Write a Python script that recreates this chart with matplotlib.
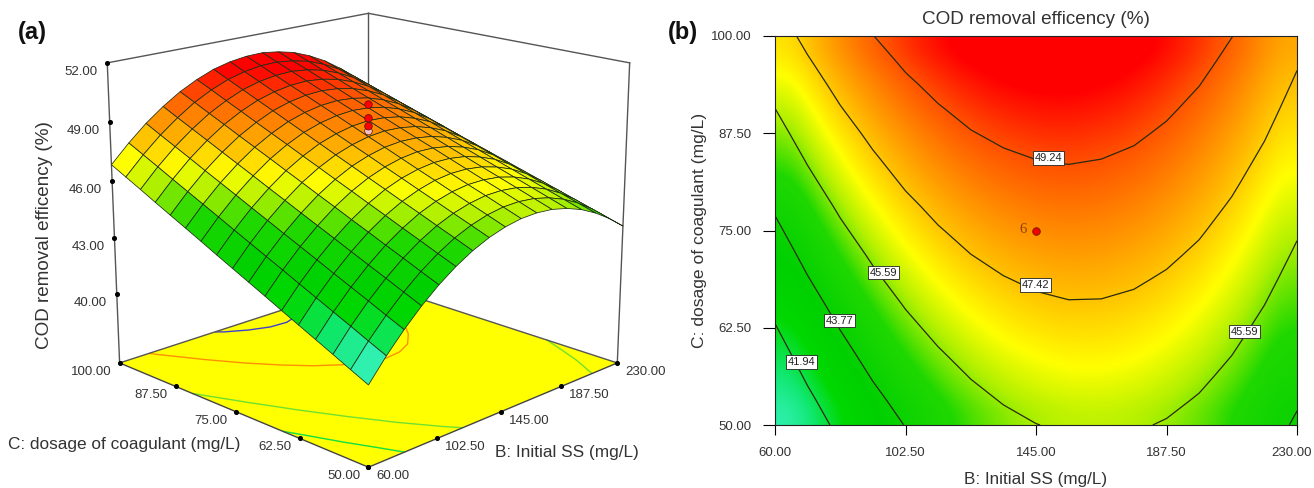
import numpy as np
import matplotlib
matplotlib.use("Agg")
import matplotlib.pyplot as plt
from matplotlib.colors import LinearSegmentedColormap, Normalize
from matplotlib.transforms import ScaledTranslation
from mpl_toolkits.mplot3d import proj3d

plt.rcParams['font.family'] = ['Liberation Sans', 'DejaVu Sans']

B_values = [60.0, 70.625, 81.25, 91.875, 102.5, 113.125, 123.75, 134.375, 145.0,
            155.625, 166.25, 176.875, 187.5, 198.125, 208.75, 219.375, 230.0]
C_values = [50.0, 53.125, 56.25, 59.375, 62.5, 65.625, 68.75, 71.875, 75.0,
            78.125, 81.25, 84.375, 87.5, 90.625, 93.75, 96.875, 100.0]
# COD removal: one list per B value, running over C_values
cod_b060 = [40.22,40.63,41.05,41.46,41.87,42.28,42.70,43.11,43.52,43.93,44.35,44.76,45.17,45.58,46.00,46.41,46.82]
cod_b071 = [41.29,41.69,42.10,42.50,42.90,43.30,43.71,44.11,44.51,44.91,45.32,45.72,46.12,46.52,46.93,47.33,47.73]
cod_b081 = [42.24,42.63,43.03,43.42,43.81,44.21,44.60,44.99,45.39,45.78,46.18,46.57,46.96,47.36,47.75,48.14,48.54]
cod_b092 = [43.08,43.46,43.85,44.23,44.61,45.00,45.38,45.76,46.15,46.53,46.92,47.30,47.68,48.07,48.45,48.83,49.22]
cod_b102 = [43.81,44.18,44.56,44.93,45.31,45.68,46.06,46.43,46.81,47.18,47.56,47.93,48.30,48.68,49.05,49.43,49.80]
cod_b113 = [44.42,44.78,45.15,45.51,45.88,46.24,46.61,46.97,47.34,47.70,48.07,48.43,48.79,49.16,49.52,49.89,50.25]
cod_b124 = [44.92,45.28,45.63,45.99,46.34,46.70,47.05,47.41,47.76,48.12,48.48,48.83,49.19,49.54,49.90,50.25,50.61]
cod_b134 = [45.30,45.65,45.99,46.34,46.68,47.03,47.37,47.72,48.06,48.41,48.76,49.10,49.45,49.79,50.14,50.48,50.83]
cod_b145 = [45.57,45.91,46.24,46.58,46.92,47.25,47.59,47.93,48.26,48.60,48.94,49.27,49.61,49.94,50.28,50.62,50.95]
cod_b156 = [45.73,46.06,46.39,46.71,47.04,47.37,47.70,48.02,48.35,48.68,49.01,49.33,49.66,49.99,50.32,50.64,50.97]
cod_b166 = [45.77,46.09,46.41,46.72,47.04,47.36,47.68,47.99,48.31,48.63,48.95,49.26,49.58,49.90,50.22,50.53,50.85]
cod_b177 = [45.70,46.01,46.32,46.63,46.93,47.24,47.55,47.86,48.17,48.48,48.79,49.09,49.40,49.71,50.02,50.33,50.64]
cod_b188 = [45.51,45.81,46.11,46.41,46.70,47.00,47.30,47.60,47.90,48.20,48.50,48.79,49.09,49.39,49.69,49.99,50.29]
cod_b198 = [45.21,45.50,45.79,46.08,46.37,46.66,46.95,47.24,47.53,47.82,48.11,48.39,48.68,48.97,49.26,49.55,49.84]
cod_b209 = [44.79,45.07,45.35,45.63,45.91,46.19,46.47,46.75,47.03,47.31,47.59,47.86,48.14,48.42,48.70,48.98,49.26]
cod_b219 = [44.26,44.53,44.80,45.07,45.34,45.61,45.88,46.15,46.42,46.69,46.97,47.24,47.51,47.78,48.05,48.32,48.59]
cod_b230 = [43.62,43.88,44.14,44.40,44.66,44.92,45.18,45.44,45.70,45.96,46.23,46.49,46.75,47.01,47.27,47.53,47.79]

B_ticks = [60.0, 102.5, 145.0, 187.5, 230.0]
C_ticks = [50.0, 62.5, 75.0, 87.5, 100.0]
Z_ticks = [40.0, 43.0, 46.0, 49.0, 52.0]
Z_floor = 36.24
contour_levels = [41.94, 43.77, 45.59, 47.42, 49.24]
floor_levels = [42.3, 44.7, 48.3, 50.5]
floor_line_colors = ['#10E040', '#70E030', '#FF9000', '#4040D0']
label_values = [49.24, 47.42, 45.59, 45.59, 43.77, 41.94]
label_B = [149.1, 144.9, 95.4, 212.9, 81.0, 68.5]
label_C = [84.3, 68.0, 69.6, 62.0, 63.4, 58.1]
centre_B = 145.0
centre_C = 75.0
centre_runs = [48.55, 48.8, 49.2, 49.9]
run_colors = ['#F8C0C0', '#FF0000', '#FF0000', '#FF0000']

Z = np.array([cod_b060, cod_b071, cod_b081, cod_b092, cod_b102, cod_b113, cod_b124, cod_b134,
              cod_b145, cod_b156, cod_b166, cod_b177, cod_b188, cod_b198, cod_b209, cod_b219, cod_b230]).T
BB, CC = np.meshgrid(B_values, C_values)

stops = [(40.2, '#30F0B0'), (41.0, '#10E870'), (42.0, '#00D800'), (43.0, '#00D000'), (44.6, '#20D800'),
         (45.6, '#B0F000'), (46.4, '#FFFF00'), (47.4, '#FFC000'), (48.5, '#FF8000'),
         (49.3, '#FF5000'), (50.3, '#FF0000'), (51.0, '#FF0000')]
norm = Normalize(stops[0][0], stops[-1][0])
cmap = LinearSegmentedColormap.from_list('dx', [(norm(v), c) for v, c in stops], N=512)

fig = plt.figure(figsize=(13.14, 4.88), dpi=100)
W, H = 1314.0, 488.0
TXT = '#333333'

# ---- panel (a)
size = 700.0
cx, cy = 359.0, 226.0
ax = fig.add_axes([(cx - size/2)/W, (H - cy - size/2)/H, size/W, size/H], projection='3d')
ax.patch.set_visible(False)
ax.computed_zorder = False
ax.set_axis_off()
ax.set_proj_type('persp', focal_length=0.5)
ax.view_init(elev=17, azim=-135)
ax.set_box_aspect((1, 1, 0.87), zoom=0.83)
ax.set_xlim(B_ticks[0], B_ticks[-1], view_margin=0)
ax.set_ylim(C_ticks[0], C_ticks[-1], view_margin=0)
ax.set_zlim(Z_floor, Z_ticks[-1], view_margin=0)

b0, b1 = B_ticks[0], B_ticks[-1]
c0, c1 = C_ticks[0], C_ticks[-1]
z0, z1 = Z_floor, Z_ticks[-1]

ax.plot_surface(np.array([[b0, b1], [b0, b1]]), np.array([[c0, c0], [c1, c1]]),
                np.full((2, 2), z0), color='#FFFF00', shade=False, linewidth=0, zorder=1)
ax.contour(BB, CC, Z, levels=floor_levels, colors=floor_line_colors, zdir='z', offset=z0,
           linewidths=1.0, zorder=2)

GREY = '#555555'
for xs, ys, zs, col in [
    ([b0, b1], [c1, c1], [z1, z1], GREY), ([b1, b1], [c0, c1], [z1, z1], GREY),
    ([b0, b0], [c1, c1], [z0, z1], GREY), ([b1, b1], [c0, c0], [z0, z1], GREY),
    ([b1, b1], [c1, c1], [z0, z1], GREY),
    ([b0, b1], [c1, c1], [z0, z0], GREY), ([b1, b1], [c0, c1], [z0, z0], GREY),
    ([b0, b1], [c0, c0], [z0, z0], '#444444'), ([b0, b0], [c0, c1], [z0, z0], '#444444')]:
    ax.plot(xs, ys, zs, color=col, lw=1.0, zorder=3)

ax.plot_surface(BB, CC, Z, rstride=1, cstride=1, facecolors=cmap(norm(Z)), shade=False,
                edgecolor='#1c2c14', linewidth=0.55, antialiased=True, zorder=5)

# tick dots and labels
ax.scatter([b0]*len(Z_ticks), [c1]*len(Z_ticks), Z_ticks, s=7, c='k', depthshade=False, zorder=4)
ax.scatter([b0]*len(C_ticks), C_ticks, [z0]*len(C_ticks), s=7, c='k', depthshade=False, zorder=4)
ax.scatter(B_ticks, [c0]*len(B_ticks), [z0]*len(B_ticks), s=7, c='k', depthshade=False, zorder=4)
fig.canvas.draw()
M = ax.get_proj()
def note(x, y, z, text, dx, dy, ha):
    px, py, _ = proj3d.proj_transform(x, y, z, M)
    ax.annotate(text, xy=(px, py), xytext=(dx, dy), textcoords='offset pixels',
                ha=ha, va='center', fontsize=9.5, color=TXT, annotation_clip=False)
for t in Z_ticks:
    note(b0, c1, t, f'{t:.2f}', -10, -9, 'right')
for t in C_ticks:
    note(b0, t, z0, f'{t:.2f}', -8, -9, 'right')
for t in B_ticks:
    note(t, c0, z0, f'{t:.2f}', 8, -9, 'left')

ax.scatter([centre_B]*len(centre_runs), [centre_C]*len(centre_runs), centre_runs, s=30,
           c=run_colors, edgecolors='#501010', linewidths=0.5, depthshade=False, zorder=7)

fig.text(45/W, 1-235/H, 'COD removal efficency (%)', rotation=90, ha='center', va='center', fontsize=13.6, color=TXT)
fig.text(8/W, 1-445/H, 'C: dosage of coagulant (mg/L)', ha='left', va='center', fontsize=12.4, color=TXT)
fig.text(495/W, 1-453/H, 'B: Initial SS (mg/L)', ha='left', va='center', fontsize=12.4, color=TXT)
fig.text(18/W, 1-32/H, '(a)', ha='left', va='center', fontsize=17, fontweight='bold', color='#111111')
fig.text(668/W, 1-32/H, '(b)', ha='left', va='center', fontsize=17, fontweight='bold', color='#111111')

# ---- panel (b)
ax2 = fig.add_axes([775/W, 1-425/H, 522/W, 389/H])
ax2.imshow(Z, origin='lower', extent=[b0, b1, c0, c1], aspect='auto', cmap=cmap, norm=norm,
           interpolation='bicubic')
ax2.contour(BB, CC, Z, levels=contour_levels, colors='#2a2a10', linewidths=0.9)
for v, x, y in zip(label_values, label_B, label_C):
    ax2.text(x, y, f'{v:.2f}', ha='center', va='center', fontsize=8, color='#222222',
             bbox=dict(boxstyle='square,pad=0.15', fc='white', ec='#222222', lw=0.6))
ax2.plot([centre_B], [centre_C], 'o', ms=5.5, mfc='#EE0000', mec='#702000', mew=0.6)
ax2.annotate('6', xy=(centre_B, centre_C), xytext=(-13, 1), textcoords='offset pixels', ha='center',
             va='center', fontsize=10.5, color='#8A4010', family='Liberation Serif')
ax2.set_xticks(B_ticks, [f'{t:.2f}' for t in B_ticks])
ax2.set_yticks(C_ticks, [f'{t:.2f}' for t in C_ticks])
ax2.set_xlim(b0, b1)
ax2.set_ylim(c0, c1)
ax2.tick_params(axis='x', length=7.5, width=0.8, labelsize=9.5, labelcolor=TXT, pad=8.5)
ax2.tick_params(axis='y', length=9, width=0.8, labelsize=9.5, labelcolor=TXT, pad=8)
last = ax2.get_xticklabels()[-1]
last.set_transform(last.get_transform() + ScaledTranslation(-4/72, 0, fig.dpi_scale_trans))
for s in ax2.spines.values():
    s.set_linewidth(0.8)
    s.set_color('#222222')
ax2.set_title('COD removal efficency (%)', fontsize=13.6, color=TXT, pad=9)
ax2.set_xlabel('B: Initial SS (mg/L)', fontsize=12.3, color=TXT, labelpad=9)
ax2.set_ylabel('C: dosage of coagulant (mg/L)', fontsize=12.6, color=TXT, labelpad=3)

fig.savefig('out.png', dpi=100)
